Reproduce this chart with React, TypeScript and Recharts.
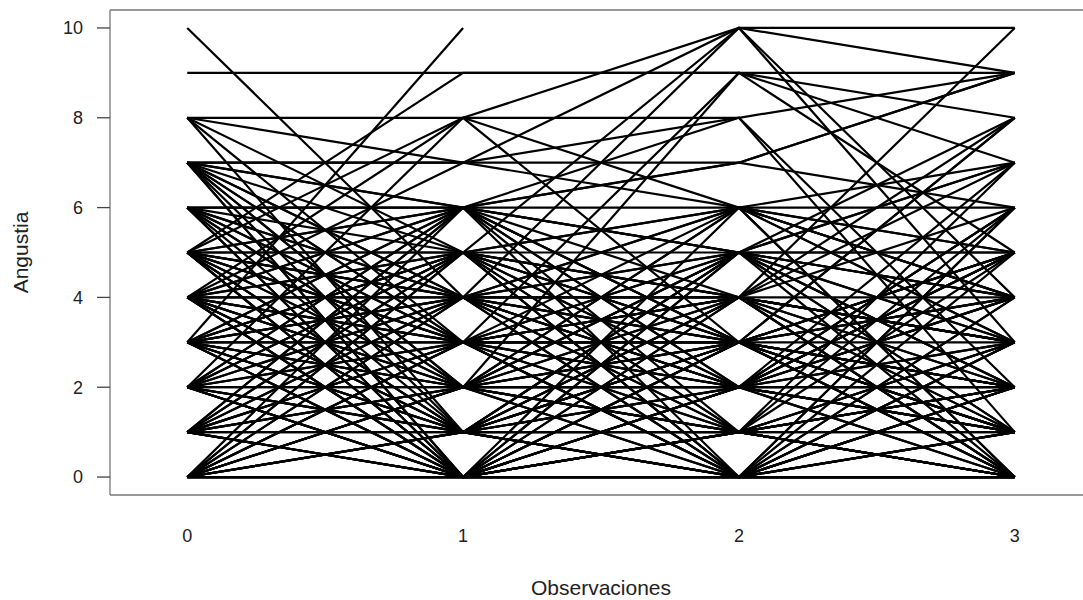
import React from 'react';
import { LineChart, Line, XAxis, YAxis, ReferenceLine, Label } from 'recharts';

const observations = [0, 1, 2, 3];
const yTicks = [0, 2, 4, 6, 8, 10];

// Angustia value of each subject at each observation (null = missing)
const obs0: (number | null)[] = [
  10, 9, 3, 5, 8, 8, 8, 2, 4, 4,
  2, 1, 0, 7, 6, 5, 4, 7, 0, 3,
  7, 5, 8, 8,
  0, 0, 0, 0, 0, 0, 0, 0, 0, 0, 0, 0, 0, 0, 0,
  1, 1, 1, 1, 1, 1, 1, 1, 1, 1, 1, 1,
  2, 2, 2, 2, 2, 2, 2, 2, 2, 2, 2, 2, 2,
  3, 3, 3, 3, 3, 3, 3, 3, 3, 3, 3, 3, 3, 3,
  4, 4, 4, 4, 4, 4, 4, 4, 4, 4, 4, 4, 4,
  5, 5, 5, 5, 5, 5, 5, 5, 5, 5, 5, 5,
  6, 6, 6, 6, 6, 6, 6, 6, 6,
  7, 7, 7, 7, 7, 7, 7, 7, 7,
  5,
  0, 1, 2, 3, 4, 5, 0, 1, 2, 3,
  4, 5, 0, 1, 2, 3, 4, 5, 6, 7,
  0, 1, 2, 3, 4, 5, 6, 7, 0, 1,
];
const obs1: (number | null)[] = [
  4, 9, 10, 9, 8, 7, 5, 8, 8, 7,
  5, 3, 2, 7, 6, 6, 6, 6, 4, 4,
  7, 8, 3, 1,
  0, 0, 0, 1, 0, 2, 3, 1, 4, 5, 2, 0, 3, 6, 1,
  0, 1, 2, 0, 4, 3, 5, 2, 6, 0, 3, 1,
  0, 2, 1, 3, 4, 0, 5, 6, 2, 3, 1, 4, 0,
  0, 1, 2, 3, 4, 5, 0, 6, 2, 1, 3, 4, 5, 0,
  0, 1, 2, 3, 4, 5, 6, 0, 2, 3, 1, 5, 4,
  0, 1, 2, 3, 4, 5, 6, 0, 3, 2, 4, 1,
  0, 1, 2, 3, 4, 5, 6, 0, 2,
  0, 1, 2, 3, 4, 5, 6, 0, 3,
  5,
  0, 0, 1, 2, 3, 4, 2, 4, 5, 6,
  1, 0, 5, 6, 0, 1, 2, 3, 4, 4,
  3, 2, 6, 5, 0, 1, 3, 2, 1, 5,
];
const obs2: (number | null)[] = [
  3, 9, null, 9, 8, 6, 4, 6, 10, 10,
  10, 9, 9, 8, 8, 7, 7, 5, 10, 4,
  7, 3, 2, 0,
  0, 0, 1, 0, 2, 1, 0, 3, 2, 3, 4, 5, 6, 2, 0,
  0, 1, 0, 3, 1, 2, 0, 6, 4, 2, 5, 4,
  1, 2, 0, 3, 5, 4, 2, 1, 3, 0, 5, 6, 3,
  0, 2, 1, 3, 0, 4, 6, 3, 5, 4, 1, 2, 0, 2,
  1, 3, 0, 4, 4, 2, 5, 3, 6, 1, 5, 3, 0,
  2, 4, 3, 5, 1, 6, 0, 5, 2, 4, 3, 1,
  3, 2, 5, 4, 6, 1, 3, 0, 2,
  4, 5, 1, 3, 2, 0, 6, 1, 4,
  5,
  0, 1, 2, 2, 3, 4, 2, 3, 4, 5,
  0, 1, 1, 2, 0, 3, 1, 0, 2, 5,
  4, 5, 3, 6, 2, 3, 0, 3, 1, 3,
];
const obs3: (number | null)[] = [
  2, 9, null, 5, 9, 5, 3, 4, 10, 3,
  4, 8, 7, 2, 1, 9, 6, 8, 9, 10,
  9, 2, 1, 2,
  0, 0, 0, 0, 1, 0, 2, 1, 0, 1, 3, 2, 4, 5, 3,
  0, 1, 1, 2, 0, 6, 3, 0, 2, 5, 7, 8,
  0, 2, 4, 0, 1, 3, 7, 2, 5, 6, 0, 3, 8,
  1, 0, 3, 3, 2, 0, 5, 1, 4, 7, 6, 5, 0, 3,
  2, 0, 5, 1, 4, 6, 2, 0, 7, 3, 4, 8, 1,
  1, 3, 0, 5, 2, 4, 3, 7, 6, 0, 1, 5,
  2, 4, 1, 3, 0, 7, 5, 6, 2,
  1, 3, 0, 4, 5, 2, 6, 3, 0,
  5,
  1, 0, 1, 2, 2, 3, 4, 5, 6, 4,
  0, 2, 0, 1, 0, 2, 1, 4, 3, 2,
  2, 3, 4, 3, 4, 1, 0, 5, 2, 4,
];

const columns = [obs0, obs1, obs2, obs3];
const data = observations.map((x, j) => {
  const row: Record<string, number | null> = { x };
  columns[j].forEach((v, i) => {
    row['s' + i] = v;
  });
  return row;
});

const FONT = '"Liberation Sans", Arial, Helvetica, sans-serif';
const BOX = '#777';

export default function App() {
  return (
    <div
      style={{
        position: 'absolute',
        left: 0,
        top: 0,
        width: 1083,
        height: 600,
        overflow: 'hidden',
        background: '#fff',
      }}
    >
      <LineChart
        width={1100}
        height={600}
        data={data}
        margin={{ top: 10, right: 8, bottom: 0, left: 0 }}
        style={{ fontFamily: FONT }}
      >
        <XAxis
          dataKey="x"
          type="number"
          domain={[-0.28, 3.28]}
          ticks={observations}
          allowDataOverflow
          height={105}
          axisLine={{ stroke: BOX, strokeWidth: 1.3 }}
          tickLine={false}
          tickSize={6}
          tickMargin={28}
          tick={{ fill: '#222', fontSize: 18, fontFamily: FONT }}
          interval={0}
        >
          <Label
            value="Observaciones"
            position="insideBottom"
            offset={5}
            style={{ fill: '#222', fontSize: 21, fontFamily: FONT }}
          />
        </XAxis>
        <YAxis
          type="number"
          domain={[-0.4, 10.4]}
          ticks={yTicks}
          allowDataOverflow
          width={110}
          axisLine={{ stroke: BOX, strokeWidth: 1.3 }}
          tickLine={{ stroke: '#444', strokeWidth: 1.3 }}
          tickSize={13}
          tickMargin={14}
          tick={{ fill: '#222', fontSize: 18, fontFamily: FONT }}
          interval={0}
        >
          <Label
            value="Angustia"
            angle={-90}
            position="insideLeft"
            offset={21}
            style={{ fill: '#222', fontSize: 21, fontFamily: FONT, textAnchor: 'middle' }}
          />
        </YAxis>
        <ReferenceLine y={10.4} stroke={BOX} strokeWidth={1.3} ifOverflow="visible" />
        {obs0.map((_, i) => (
          <Line
            key={i}
            dataKey={'s' + i}
            type="linear"
            stroke="#000"
            strokeWidth={2.2}
            dot={false}
            activeDot={false}
            connectNulls={false}
            isAnimationActive={false}
          />
        ))}
      </LineChart>
    </div>
  );
}
